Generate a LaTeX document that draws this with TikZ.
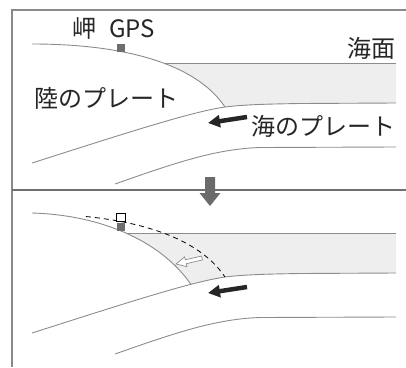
\documentclass[tikz,border=0pt]{standalone}
\usepackage{fontspec}
\setmainfont{Noto Sans CJK JP}
\usetikzlibrary{arrows.meta}
\definecolor{linegrey}{HTML}{8C8C8C}
\definecolor{framegrey}{HTML}{8A8A8A}
\definecolor{dividergrey}{HTML}{707070}
\definecolor{seagrey}{HTML}{EEEEEE}
\definecolor{markgrey}{HTML}{6E6E6E}
\definecolor{inkgrey}{HTML}{262626}
\definecolor{downgrey}{HTML}{6B6B6B}

\begin{document}
\begin{tikzpicture}[x=1pt,y=-1pt,
  plateline/.style={draw=linegrey, line width=0.9pt},
  frameline/.style={draw=framegrey, line width=1.4pt},
  dividerline/.style={draw=dividergrey, line width=1.2pt},
  oldcoast/.style={draw=black, line width=0.8pt, dash pattern=on 5pt off 4pt},
  txt/.style={font=\fontsize{24}{27}\selectfont, text=inkgrey, inner sep=0pt},
  gpsmark/.style={fill=markgrey, minimum size=8pt, inner sep=0pt},
  oldgps/.style={draw=black, fill=white, line width=0.8pt, minimum size=8.5pt, inner sep=0pt},
  pusharrow/.style={draw=inkgrey, line width=4.5pt, -{Triangle[length=12pt,width=12pt]}},
  hollowarrow/.style={draw=linegrey, fill=white, line width=0.7pt, line join=miter},
  downarrow/.style={fill=downgrey}
]
\useasboundingbox (0,0) rectangle (406,367);

% frame and panel divider
\draw[frameline] (12,367) -- (12,10) -- (406,10);
\draw[dividerline] (12,190) -- (406,190);

% hinge of the new coast on the ocean plate (lower panel)
\path (32,333) .. controls (120,305) and (190,282) .. (225,277) coordinate[pos=0.74] (hingeB);

% sea water, upper panel
\begin{scope}
  \clip (0,63) rectangle (396,200);
  \fill[seagrey] (32,44) .. controls (120,44) and (195,62) .. (225,107)
    .. controls (245,104.5) and (270,104) .. (300,103.5) -- (396,103)
    -- (396,0) -- (32,0) -- cycle;
\end{scope}

% sea water, lower panel
\begin{scope}
  \clip (0,233) rectangle (396,367);
  \fill[seagrey] (32,213) .. controls (100,215) and (160,240) .. (hingeB)
    -- (225,277) .. controls (245,274.5) and (270,274) .. (300,273.5) -- (396,273)
    -- (396,180) -- (32,180) -- cycle;
\end{scope}

% plate boundaries, same in both panels
\foreach \dy in {0,170} {
  \begin{scope}[shift={(0,\dy)}]
    \draw[plateline] (32,163) .. controls (120,135) and (190,112) .. (225,107)
      .. controls (245,104.5) and (270,104) .. (300,103.5) -- (396,103);
    \draw[plateline] (115,184) .. controls (175,163) and (215,149) .. (260,147.5) -- (396,147);
  \end{scope}
}

% land surface and sea level, upper panel
\draw[plateline] (32,44) .. controls (120,44) and (195,62) .. (225,107)
  coordinate[pos=0.568] (shoreA);
\coordinate (seaEndA) at (396,63);
\draw[plateline] (shoreA) -- (shoreA -| seaEndA);

% land surface after dragging down, and sea level, lower panel
\draw[plateline] (32,213) .. controls (100,215) and (160,240) .. (hingeB)
  coordinate[pos=0.505] (shoreB);
\coordinate (seaEndB) at (396,233);
\draw[plateline] (shoreB) -- (shoreB -| seaEndB);

% former land surface
\begin{scope}
  \clip (84,0) rectangle (406,367);
  \draw[oldcoast] (32,214) .. controls (120,214) and (195,232) .. (225,277);
\end{scope}

% GPS stations
\node[gpsmark] (gpsA) at (121,48) {};
\node[gpsmark] (gpsB) at (121,227) {};
\node[oldgps] (gpsOld) at (121,217.5) {};

% labels
\node[txt, anchor=west] (capeGPS) at (72,28) {岬\hspace{0.55em}GPS};
\node[txt] (seaSurf) at (371,48) {海面};
\node[txt] (landPlate) at (106,98) {陸のプレート};
\node[txt] (oceanPlate) at (323,126) {海のプレート};

% subduction arrows
\coordinate (pushTailA) at (247,117);
\coordinate (pushTipA) at (208,123);
\draw[pusharrow] (pushTailA) -- (pushTipA);
\coordinate (pushTailB) at (247,287);
\coordinate (pushTipB) at (208,293);
\draw[pusharrow] (pushTailB) -- (pushTipB);

% strain accumulating in the land plate
\draw[hollowarrow] (202.45,259.95) -- (186.18,263.71) -- (186.86,266.63) -- (176,264)
  -- (184.61,256.89) -- (185.28,259.81) -- (201.55,256.05) -- cycle;

% time step arrow between panels
\fill[downarrow] (205,177) -- (215,177) -- (215,193) -- (220.5,193) -- (210,206)
  -- (199.5,193) -- (205,193) -- cycle;
\end{tikzpicture}
\end{document}
